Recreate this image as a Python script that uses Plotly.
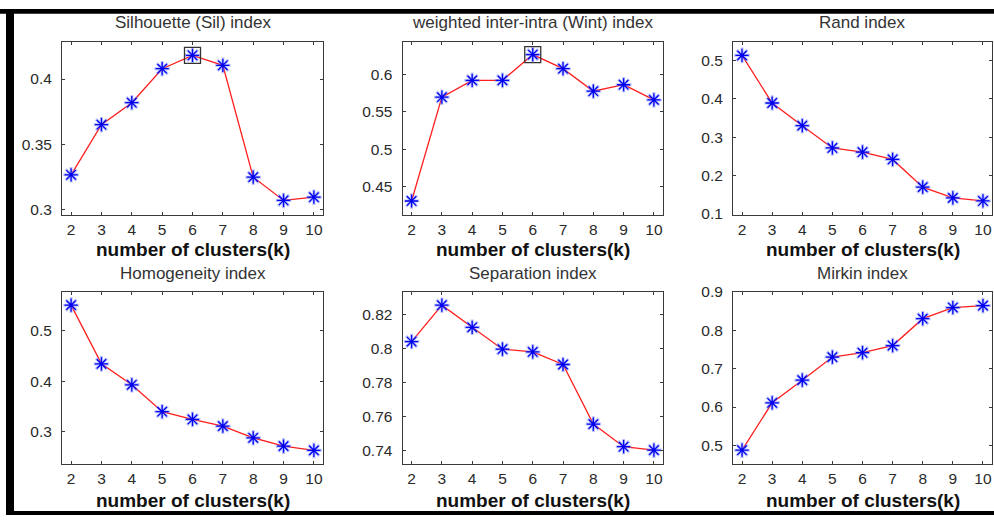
import plotly.graph_objects as go

k = [2, 3, 4, 5, 6, 7, 8, 9, 10]

sil = [0.3264, 0.3649, 0.3818, 0.4079, 0.4182, 0.4105, 0.3246, 0.3067, 0.3092]
wint = [0.4312, 0.5696, 0.592, 0.592, 0.6264, 0.6076, 0.5776, 0.5862, 0.566]
rand_idx = [0.513, 0.389, 0.330, 0.272, 0.261, 0.242, 0.170, 0.142, 0.134]
homog = [0.550, 0.434, 0.3927, 0.3395, 0.3243, 0.311, 0.288, 0.2715, 0.2632]
separ = [0.8041, 0.8255, 0.8125, 0.7996, 0.798, 0.7906, 0.7555, 0.7422, 0.7402]
mirkin = [0.4878, 0.611, 0.670, 0.730, 0.7415, 0.760, 0.830, 0.859, 0.864]

titles = ["Silhouette (Sil) index", "weighted inter-intra (Wint) index", "Rand index",
          "Homogeneity index", "Separation index", "Mirkin index"]
series = [sil, wint, rand_idx, homog, separ, mirkin]
highlight = [True, True, False, False, False, False]

y_ranges = [[0.2955, 0.4285], [0.4125, 0.6433], [0.0974, 0.548],
            [0.2355, 0.5764], [0.7318, 0.8334], [0.4508, 0.9]]
y_ticks = [[0.3, 0.35, 0.4], [0.45, 0.5, 0.55, 0.6], [0.1, 0.2, 0.3, 0.4, 0.5],
           [0.3, 0.4, 0.5], [0.74, 0.76, 0.78, 0.8, 0.82], [0.5, 0.6, 0.7, 0.8, 0.9]]
y_ticktext = [["0.3", "0.35", "0.4"], ["0.45", "0.5", "0.55", "0.6"],
              ["0.1", "0.2", "0.3", "0.4", "0.5"], ["0.3", "0.4", "0.5"],
              ["0.74", "0.76", "0.78", "0.8", "0.82"], ["0.5", "0.6", "0.7", "0.8", "0.9"]]
x_label = "number of clusters(k)"

W, H = 994, 522
# vertical placement (pixels) converted for the page offset/scale seen in rendering
VOFF, VSC = 8.2, 0.966


def vy(p):
    return (p - VOFF) / VSC


cols_px = [(62, 323), (402.5, 663), (733, 992)]
rows_px = [(vy(41), vy(213.5)), (vy(290), vy(462))]
title_y_px = [vy(21.5), vy(271.5)]
xtitle_y_px = [vy(248), vy(498)]

FONT = "Liberation Sans, Arial, sans-serif"
AX_COLOR = "#3a3a3a"
HALO = "rgba(100,120,255,0.45)"
STAR = "rgb(0,0,240)"
BOXC = "#333333"

fig = go.Figure()
layout = {}
annotations = []

for i in range(6):
    r, c = divmod(i, 3)
    x0, x1 = cols_px[c]
    y0, y1 = rows_px[r]
    n = i + 1
    xa = "xaxis" if n == 1 else f"xaxis{n}"
    ya = "yaxis" if n == 1 else f"yaxis{n}"
    xref = "x" if n == 1 else f"x{n}"
    yref = "y" if n == 1 else f"y{n}"
    common = dict(showline=True, linecolor=AX_COLOR, linewidth=1, mirror="allticks",
                  ticks="inside", ticklen=3, tickcolor=AX_COLOR, tickwidth=1,
                  showgrid=False, zeroline=False,
                  tickfont=dict(family=FONT, size=15.5, color="#2a2a2a"))
    layout[xa] = dict(domain=[x0 / W, x1 / W], anchor=yref, range=[1.7, 10.3],
                      tickvals=k, ticktext=[str(v) for v in k], ticklabelstandoff=0, **common)
    layout[ya] = dict(domain=[1 - y1 / H, 1 - y0 / H], anchor=xref, range=y_ranges[i],
                      tickvals=y_ticks[i], ticktext=y_ticktext[i], ticklabelstandoff=6, **common)

    ys = series[i]
    fig.add_trace(go.Scatter(x=k, y=ys, xaxis=xref, yaxis=yref, mode="lines",
                             line=dict(color="rgb(255,30,30)", width=1.3),
                             showlegend=False, hoverinfo="skip"))
    fig.add_trace(go.Scatter(x=k, y=ys, xaxis=xref, yaxis=yref, mode="markers",
                             marker=dict(symbol="asterisk-open", size=13, color=HALO,
                                         line=dict(color=HALO, width=3)),
                             showlegend=False, hoverinfo="skip"))
    fig.add_trace(go.Scatter(x=k, y=ys, xaxis=xref, yaxis=yref, mode="markers",
                             marker=dict(symbol="asterisk-open", size=11, color=STAR,
                                         line=dict(color=STAR, width=1.3)),
                             showlegend=False, hoverinfo="skip"))
    if highlight[i]:
        j = ys.index(max(ys))
        fig.add_trace(go.Scatter(x=[k[j]], y=[ys[j]], xaxis=xref, yaxis=yref, mode="markers",
                                 marker=dict(symbol="square-open", size=16, color=BOXC,
                                             line=dict(color=BOXC, width=1.3)),
                                 showlegend=False, hoverinfo="skip"))

    cx = (x0 + x1) / 2 / W
    annotations.append(dict(text=titles[i], x=cx, y=1 - title_y_px[r] / H, xref="paper", yref="paper",
                            xanchor="center", yanchor="middle", showarrow=False,
                            font=dict(family=FONT, size=17, color="#333333")))
    annotations.append(dict(text=x_label, x=cx, y=1 - xtitle_y_px[r] / H, xref="paper", yref="paper",
                            xanchor="center", yanchor="middle", showarrow=False,
                            font=dict(family=FONT, size=19, color="#111111", weight="bold")))

shapes = [
    dict(type="rect", xref="paper", yref="paper", x0=0, x1=1, y0=1 - vy(13) / H, y1=1,
         fillcolor="black", line=dict(width=0), layer="above"),
    dict(type="rect", xref="paper", yref="paper", x0=6 / W, x1=14 / W, y0=0, y1=1,
         fillcolor="black", line=dict(width=0), layer="above"),
    dict(type="rect", xref="paper", yref="paper", x0=6 / W, x1=1, y0=0, y1=4 / H,
         fillcolor="black", line=dict(width=0), layer="above"),
]

fig.update_layout(width=W, height=H, margin=dict(l=0, r=0, t=0, b=0),
                  paper_bgcolor="white", plot_bgcolor="white",
                  annotations=annotations, shapes=shapes, **layout)

fig.write_html("out.html")
